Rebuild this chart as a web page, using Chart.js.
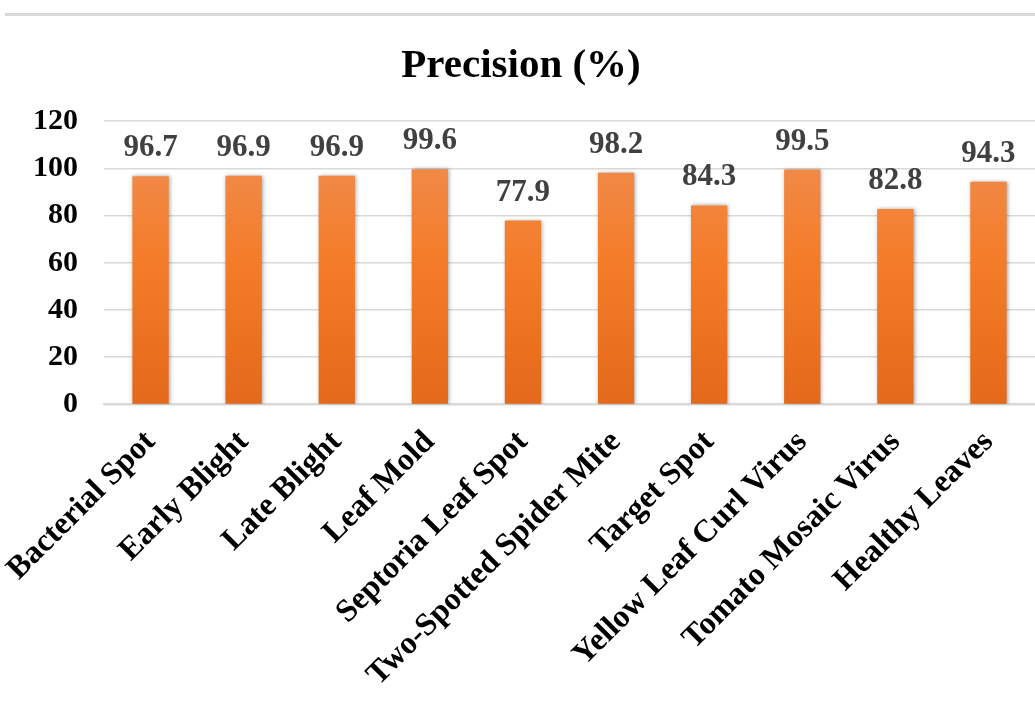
<!DOCTYPE html>
<html>
<head>
<meta charset="utf-8">
<title>Precision</title>
<script src="https://cdn.jsdelivr.net/npm/chart.js@4.4.1/dist/chart.umd.min.js"></script>
<style>
  body { margin: 0; background: #fff; }
  #wrap { position: relative; width: 1035px; height: 709px; }
  #topline { position: absolute; left: 5px; right: 0; top: 13px; border-top: 3px solid #d9d9d9; }
</style>
</head>
<body>
<div id="wrap">
  <canvas id="myChart" width="1035" height="709"></canvas>
  <div id="topline"></div>
</div>
<script>
const classes = ['Bacterial Spot', 'Early Blight', 'Late Blight', 'Leaf Mold', 'Septoria Leaf Spot',
  'Two-Spotted Spider Mite', 'Target Spot', 'Yellow Leaf Curl Virus', 'Tomato Mosaic Virus', 'Healthy Leaves'];
const precision = [96.7, 96.9, 96.9, 99.6, 77.9, 98.2, 84.3, 99.5, 82.8, 94.3];
const yTicks = [0, 20, 40, 60, 80, 100, 120];

const serif = "'Liberation Serif', 'Times New Roman', serif";

// orange fill, lighter at the top of the plot
const barFill = (context) => {
  const area = context.chart.chartArea;
  if (!area) return '#f47d2a';
  const g = context.chart.ctx.createLinearGradient(0, area.top, 0, area.bottom);
  g.addColorStop(0, '#ef9057');
  g.addColorStop(0.5, '#f47c28');
  g.addColorStop(1, '#e4691b');
  return g;
};

// soft shadow behind bars
const barShadow = {
  id: 'barShadow',
  beforeDatasetsDraw(chart) {
    const ctx = chart.ctx;
    ctx.save();
    ctx.shadowColor = 'rgba(0,0,0,0.35)';
    ctx.shadowBlur = 4;
    ctx.shadowOffsetX = 1;
    ctx.shadowOffsetY = 0;
  },
  afterDatasetsDraw(chart) {
    chart.ctx.restore();
  }
};

// value printed above each bar
const valueLabels = {
  id: 'valueLabels',
  afterDatasetsDraw(chart) {
    const ctx = chart.ctx;
    const meta = chart.getDatasetMeta(0);
    ctx.save();
    ctx.font = 'bold 31px ' + serif;
    ctx.fillStyle = '#404040';
    ctx.textAlign = 'center';
    ctx.textBaseline = 'middle';
    meta.data.forEach((bar, i) => {
      ctx.fillText(precision[i].toFixed(1), bar.x, bar.y - 28);
    });
    ctx.restore();
  }
};

const ctx = document.getElementById('myChart').getContext('2d');
const myChart = new Chart(ctx, {
  type: 'bar',
  data: {
    labels: classes,
    datasets: [{
      label: 'Precision (%)',
      data: precision,
      backgroundColor: barFill,
      borderWidth: 0,
      barPercentage: 0.39,
      categoryPercentage: 1
    }]
  },
  plugins: [barShadow, valueLabels],
  options: {
    responsive: false,
    animation: false,
    layout: { padding: { left: 7, right: 0, top: 0, bottom: 4 } },
    plugins: {
      legend: { display: false },
      tooltip: { enabled: false },
      title: {
        display: true,
        text: 'Precision (%)',
        color: '#000',
        font: { family: serif, size: 41, weight: 'bold' },
        padding: { top: 42, bottom: 30 }
      }
    },
    scales: {
      y: {
        min: 0,
        max: 120,
        afterBuildTicks: (axis) => { axis.ticks = yTicks.map(v => ({ value: v })); },
        border: { display: false },
        grid: { color: '#d9d9d9', lineWidth: 1.5, drawTicks: false },
        ticks: {
          color: '#000',
          padding: 26,
          font: { family: serif, size: 30, weight: 'bold' }
        }
      },
      x: {
        border: { color: '#d9d9d9', width: 2 },
        grid: { display: false },
        // let the first slanted label run out past the y axis
        afterFit: (scale) => { scale.paddingLeft = 0; scale.paddingRight = 0; },
        ticks: {
          color: '#000',
          minRotation: 45,
          maxRotation: 45,
          autoSkip: false,
          padding: 11,
          font: { family: serif, size: 32, weight: 'bold' }
        }
      }
    }
  }
});
</script>
</body>
</html>
